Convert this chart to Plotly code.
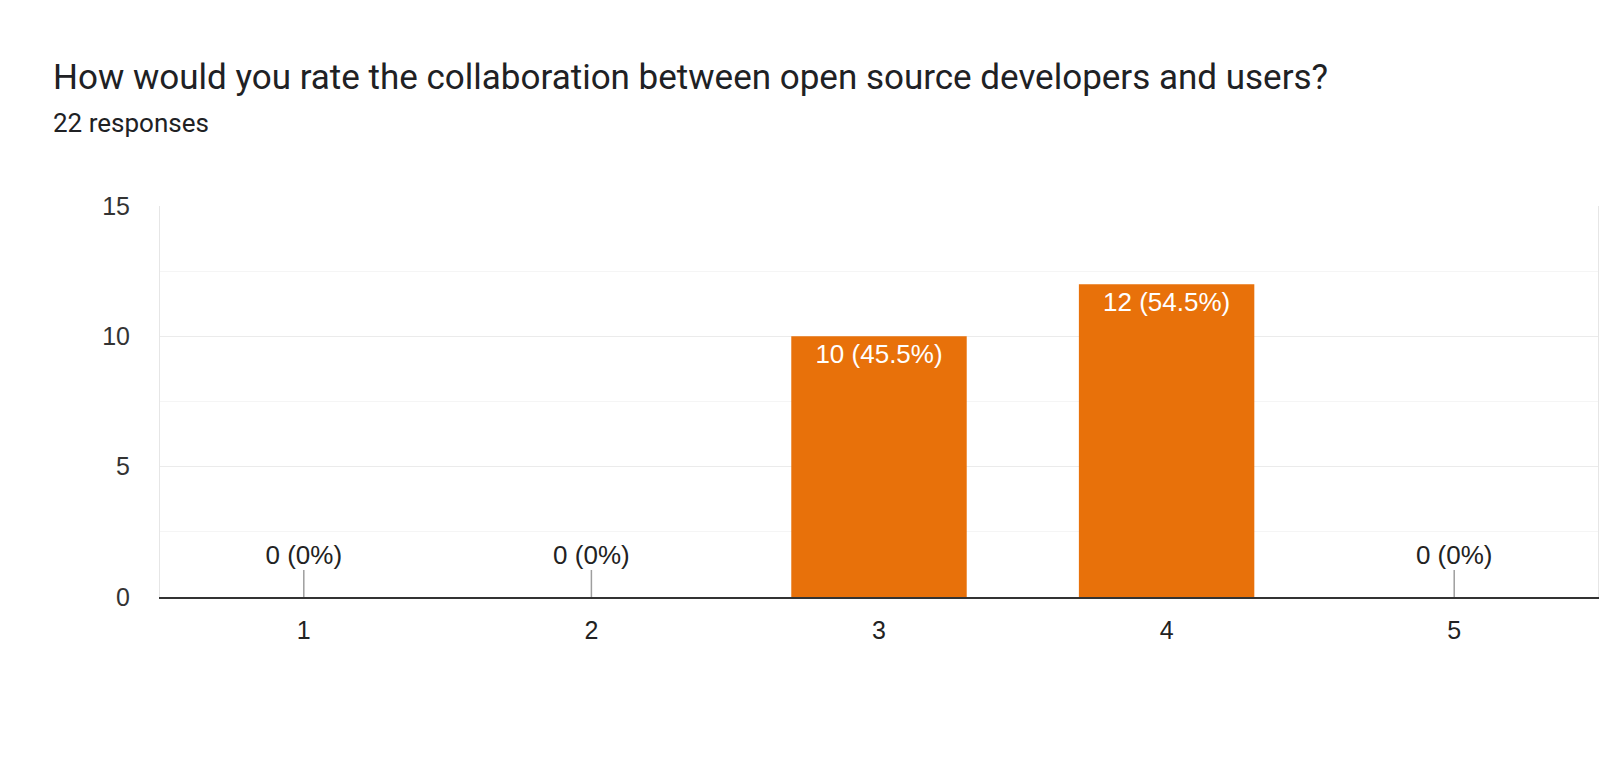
import plotly.graph_objects as go

# ---- data ----
categories = ["1", "2", "3", "4", "5"]
counts = [0, 0, 10, 12, 0]
y_ticks = [0, 5, 10, 15]
title_text = "How would you rate the collaboration between open source developers and users?"

total = sum(counts)


def fmt_label(v):
    pct = round(v / total * 100, 1)
    pct_s = f"{pct:.1f}".rstrip("0").rstrip(".")
    return f"{v} ({pct_s}%)"


labels = [fmt_label(v) for v in counts]

ORANGE = "#e8710a"
W, H = 1600, 761
L, R, T, B = 160, 2, 206, 164
plot_h = H - T - B
px_per_unit = plot_h / 15.0
stem_units = 27 / px_per_unit
LABEL_FONT = "Arial, Liberation Sans"

fig = go.Figure()

# bars (non-zero values get inside white labels)
fig.add_trace(go.Bar(
    x=categories,
    y=counts,
    marker=dict(color=ORANGE, line=dict(width=0)),
    text=[lab if v > 0 else "" for lab, v in zip(labels, counts)],
    textposition="inside",
    insidetextanchor="end",
    textfont=dict(family=LABEL_FONT, size=26, color="white"),
    hoverinfo="skip",
    showlegend=False,
))

# zero-value stems
zx, zy = [], []
for c, v in zip(categories, counts):
    if v == 0:
        zx += [c, c, None]
        zy += [0, stem_units, None]
fig.add_trace(go.Scatter(
    x=zx, y=zy, mode="lines",
    line=dict(color="#9e9e9e", width=1.5),
    hoverinfo="skip", showlegend=False,
))

# zero-value labels
fig.add_trace(go.Scatter(
    x=[c for c, v in zip(categories, counts) if v == 0],
    y=[stem_units for v in counts if v == 0],
    mode="text",
    text=[lab for lab, v in zip(labels, counts) if v == 0],
    textposition="top center",
    textfont=dict(family=LABEL_FONT, size=26, color="#222222"),
    hoverinfo="skip", showlegend=False,
))

fig.update_layout(
    width=W, height=H,
    margin=dict(l=L, r=R, t=T, b=B, pad=0),
    paper_bgcolor="white",
    plot_bgcolor="white",
    bargap=0.39,
    font=dict(family=LABEL_FONT, color="#222222"),
    xaxis=dict(
        type="category",
        showgrid=False,
        showline=True, linecolor="#333333", linewidth=2,
        ticks="outside", ticklen=10, tickcolor="rgba(0,0,0,0)",
        tickfont=dict(family=LABEL_FONT, size=25, color="#222222"),
        zeroline=False,
    ),
    yaxis=dict(
        range=[0, 15],
        tickvals=y_ticks,
        showgrid=True, gridcolor="#ebebeb", gridwidth=1,
        minor=dict(dtick=2.5, showgrid=True, gridcolor="#f5f5f5", gridwidth=1),
        showline=True, mirror=True, linecolor="#e6e6e6", linewidth=1,
        ticks="outside", ticklen=24, tickcolor="rgba(0,0,0,0)",
        tickfont=dict(family=LABEL_FONT, size=25, color="#333333"),
        zeroline=False,
    ),
    annotations=[
        dict(text=title_text, xref="paper", yref="paper",
             x=(51 - L) / (W - L - R), y=(H - B - 77) / plot_h,
             xanchor="left", yanchor="middle", showarrow=False,
             font=dict(family="Roboto", size=35, color="#202124")),
        dict(text=f"{total} responses", xref="paper", yref="paper",
             x=(51 - L) / (W - L - R), y=(H - B - 123) / plot_h,
             xanchor="left", yanchor="middle", showarrow=False,
             font=dict(family="Roboto", size=26, color="#202124")),
    ],
)

fig.write_html("out.html")
